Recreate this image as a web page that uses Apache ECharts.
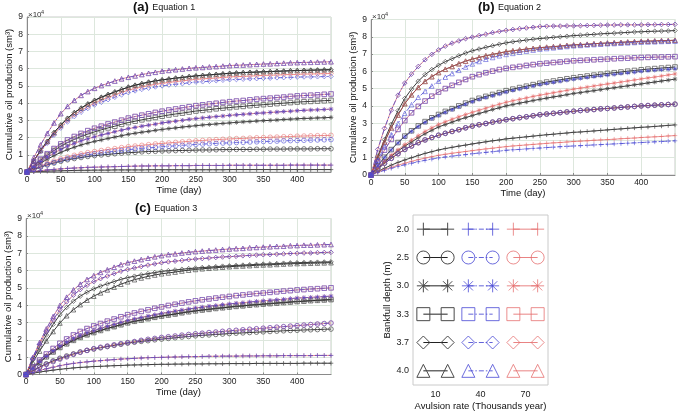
<!DOCTYPE html>
<html>
<head>
<meta charset="utf-8">
<script src="https://cdn.jsdelivr.net/npm/echarts/dist/echarts.min.js"></script>
<style>
  html, body { margin: 0; padding: 0; background: #fff; }
  #chart { width: 685px; height: 413px; }
</style>
</head>
<body>
<div id="chart"></div>
<script>
// time axis (days) shared by all three panels
const days = [0,10,20,30,40,50,60,70,80,90,100,110,120,130,140,150,160,170,180,190,200,210,220,230,240,250,260,270,280,290,300,310,320,330,340,350,360,370,380,390,400,410,420,430,440,450];

// legend categories
const depths = ['2.0', '2.5', '3.0', '3.3', '3.7', '4.0'];   // bankfull depth (m)
const rates = ['10', '40', '70'];                             // avulsion rate (thousands year)

// values in units of 1e4 sm3
// (a) Equation 1
const eq1Plus10 = [0,.02,.03,.05,.06,.07,.08,.09,.1,.1,.11,.11,.11,.12,.12,.12,.12,.12,.13,.13,.13,.13,.13,.13,.13,.13,.13,.13,.13,.13,.14,.14,.14,.14,.14,.14,.14,.14,.14,.14,.14,.14,.14,.14,.14,.14];
const eq1Plus40 = [0,.04,.08,.12,.15,.18,.21,.23,.25,.27,.28,.29,.3,.31,.32,.33,.34,.35,.35,.36,.36,.36,.37,.37,.37,.38,.38,.38,.38,.38,.39,.39,.39,.39,.39,.39,.39,.39,.39,.4,.4,.4,.4,.4,.4,.4];
const eq1Circle10 = [0,.15,.28,.41,.52,.62,.71,.78,.84,.9,.95,.99,1.02,1.06,1.09,1.12,1.14,1.17,1.19,1.2,1.22,1.23,1.24,1.25,1.26,1.27,1.28,1.28,1.29,1.3,1.3,1.31,1.31,1.31,1.32,1.32,1.33,1.33,1.33,1.34,1.34,1.34,1.34,1.35,1.35,1.35];
const eq1Circle40 = [0,.16,.31,.44,.56,.68,.77,.86,.93,1,1.05,1.11,1.16,1.2,1.25,1.3,1.33,1.37,1.4,1.43,1.47,1.49,1.52,1.55,1.57,1.6,1.62,1.64,1.66,1.68,1.69,1.71,1.72,1.74,1.75,1.77,1.78,1.79,1.81,1.82,1.83,1.84,1.85,1.86,1.87,1.88];
const eq1Circle70 = [0,.18,.35,.5,.64,.77,.87,.97,1.05,1.13,1.19,1.25,1.31,1.36,1.42,1.47,1.51,1.55,1.59,1.63,1.66,1.69,1.72,1.75,1.78,1.81,1.83,1.86,1.88,1.9,1.92,1.94,1.95,1.97,1.99,2,2.02,2.03,2.05,2.06,2.08,2.09,2.1,2.11,2.12,2.13];
const eq1Star10 = [0,.27,.52,.74,.95,1.14,1.3,1.44,1.57,1.68,1.78,1.86,1.95,2.03,2.11,2.19,2.25,2.31,2.36,2.42,2.47,2.52,2.56,2.61,2.65,2.69,2.73,2.76,2.79,2.82,2.85,2.88,2.91,2.93,2.96,2.98,3,3.02,3.05,3.07,3.09,3.11,3.12,3.14,3.15,3.17];
const eq1Star40 = [0,.31,.6,.86,1.1,1.31,1.5,1.66,1.81,1.93,2.04,2.15,2.24,2.34,2.43,2.52,2.59,2.66,2.72,2.78,2.85,2.9,2.95,3,3.06,3.1,3.14,3.18,3.22,3.25,3.29,3.32,3.35,3.38,3.41,3.43,3.46,3.48,3.51,3.53,3.56,3.58,3.6,3.61,3.63,3.65];
const eq1Square10 = [0,.35,.69,.98,1.25,1.5,1.71,1.89,2.06,2.2,2.33,2.45,2.56,2.66,2.77,2.87,2.95,3.03,3.1,3.17,3.24,3.31,3.37,3.42,3.48,3.54,3.58,3.62,3.67,3.71,3.74,3.78,3.81,3.85,3.88,3.91,3.94,3.97,4,4.03,4.06,4.08,4.1,4.12,4.14,4.16];
const eq1Square40 = [0,.39,.75,1.06,1.36,1.63,1.86,2.06,2.24,2.4,2.54,2.66,2.79,2.9,3.01,3.13,3.22,3.3,3.38,3.46,3.53,3.6,3.66,3.73,3.79,3.85,3.9,3.95,3.99,4.04,4.08,4.12,4.15,4.19,4.23,4.26,4.29,4.32,4.35,4.39,4.42,4.44,4.46,4.48,4.51,4.53];
const eq1Diamond10 = [0,.65,1.25,1.78,2.29,2.73,3.12,3.45,3.71,3.95,4.16,4.34,4.5,4.65,4.79,4.93,5.04,5.13,5.22,5.29,5.35,5.4,5.45,5.49,5.54,5.58,5.61,5.64,5.67,5.7,5.73,5.75,5.77,5.79,5.8,5.82,5.83,5.85,5.86,5.88,5.89,5.9,5.91,5.92,5.93,5.94];
const eq1Diamond40 = [0,.61,1.17,1.67,2.14,2.55,2.91,3.22,3.47,3.69,3.89,4.05,4.2,4.34,4.48,4.61,4.71,4.8,4.87,4.94,5,5.05,5.09,5.13,5.18,5.22,5.24,5.27,5.3,5.33,5.36,5.37,5.39,5.41,5.42,5.44,5.45,5.47,5.48,5.49,5.51,5.52,5.52,5.53,5.54,5.55];
const eq1Diamond70 = [0,.63,1.2,1.72,2.2,2.63,3,3.32,3.58,3.8,4,4.18,4.33,4.47,4.62,4.75,4.85,4.94,5.02,5.09,5.15,5.2,5.25,5.29,5.34,5.38,5.41,5.43,5.46,5.49,5.52,5.54,5.55,5.57,5.59,5.61,5.62,5.63,5.65,5.66,5.67,5.69,5.69,5.7,5.71,5.72];
const eq1Triangle40 = [0,.83,1.57,2.24,2.85,3.39,3.81,4.16,4.45,4.67,4.86,5.02,5.15,5.28,5.41,5.5,5.58,5.66,5.73,5.79,5.86,5.9,5.94,5.98,6.02,6.05,6.07,6.1,6.12,6.15,6.18,6.2,6.21,6.23,6.25,6.27,6.28,6.3,6.32,6.34,6.35,6.36,6.37,6.38,6.39,6.4];

// (b) Equation 2
const eq2Plus10 = [0,.2,.39,.57,.73,.87,1,1.13,1.25,1.35,1.45,1.53,1.6,1.67,1.73,1.8,1.86,1.92,1.98,2.03,2.09,2.13,2.17,2.21,2.25,2.29,2.33,2.36,2.4,2.43,2.47,2.49,2.52,2.55,2.58,2.61,2.64,2.67,2.7,2.73,2.76,2.78,2.81,2.84,2.87,2.9];
const eq2Plus40 = [0,.14,.27,.39,.5,.59,.68,.77,.85,.92,.99,1.04,1.09,1.14,1.18,1.23,1.27,1.31,1.35,1.39,1.43,1.46,1.48,1.51,1.54,1.56,1.59,1.61,1.64,1.66,1.68,1.7,1.72,1.74,1.76,1.78,1.8,1.82,1.84,1.86,1.88,1.9,1.92,1.94,1.96,1.98];
const eq2Plus70 = [0,.16,.31,.44,.57,.68,.79,.89,.98,1.06,1.14,1.2,1.26,1.31,1.36,1.41,1.46,1.51,1.55,1.6,1.64,1.68,1.71,1.74,1.77,1.8,1.83,1.86,1.88,1.91,1.94,1.96,1.98,2.01,2.03,2.05,2.07,2.1,2.12,2.14,2.17,2.19,2.21,2.23,2.26,2.28];
const eq2Circle = [0,.35,.68,.96,1.23,1.48,1.68,1.87,2.03,2.17,2.3,2.41,2.52,2.62,2.73,2.83,2.91,2.98,3.06,3.13,3.2,3.26,3.32,3.37,3.43,3.49,3.53,3.57,3.61,3.65,3.69,3.73,3.76,3.79,3.83,3.85,3.88,3.91,3.94,3.97,4,4.02,4.04,4.06,4.08,4.1];
const eq2Star10 = [0,.39,.75,1.08,1.39,1.67,1.91,2.16,2.39,2.59,2.78,2.92,3.06,3.2,3.32,3.44,3.56,3.67,3.79,3.89,4,4.08,4.16,4.23,4.31,4.38,4.45,4.52,4.58,4.65,4.72,4.77,4.83,4.88,4.94,5,5.05,5.11,5.16,5.22,5.27,5.33,5.38,5.44,5.49,5.55];
const eq2Star40 = [0,.52,1.01,1.45,1.85,2.21,2.52,2.8,3.04,3.26,3.44,3.62,3.78,3.94,4.09,4.24,4.37,4.48,4.59,4.69,4.8,4.89,4.98,5.06,5.15,5.23,5.3,5.36,5.42,5.48,5.54,5.59,5.64,5.69,5.74,5.78,5.82,5.87,5.91,5.95,6,6.03,6.06,6.09,6.12,6.15];
const eq2Star70 = [0,.41,.79,1.14,1.46,1.76,2.02,2.28,2.52,2.73,2.93,3.08,3.23,3.37,3.5,3.63,3.75,3.87,3.99,4.1,4.21,4.3,4.38,4.46,4.55,4.62,4.69,4.76,4.83,4.9,4.97,5.03,5.09,5.15,5.21,5.27,5.32,5.38,5.44,5.5,5.56,5.62,5.67,5.73,5.79,5.85];
const eq2Square10 = [0,.53,1.03,1.47,1.88,2.25,2.56,2.84,3.09,3.31,3.5,3.68,3.84,4,4.16,4.31,4.44,4.55,4.66,4.77,4.88,4.97,5.06,5.14,5.23,5.31,5.38,5.44,5.51,5.57,5.63,5.68,5.73,5.78,5.83,5.88,5.92,5.96,6.01,6.05,6.09,6.13,6.16,6.19,6.22,6.25];
const eq2Square40 = [0,.75,1.44,2.06,2.64,3.15,3.6,3.97,4.28,4.56,4.8,5,5.19,5.36,5.53,5.69,5.81,5.92,6.01,6.1,6.17,6.23,6.28,6.34,6.39,6.44,6.47,6.51,6.54,6.58,6.61,6.63,6.65,6.67,6.69,6.71,6.73,6.75,6.76,6.78,6.8,6.81,6.82,6.83,6.84,6.85];
const eq2Diamond10 = [0,1.09,2.05,2.93,3.72,4.43,4.97,5.43,5.81,6.1,6.35,6.56,6.73,6.9,7.06,7.19,7.29,7.39,7.48,7.57,7.65,7.71,7.76,7.81,7.86,7.9,7.93,7.97,8,8.03,8.07,8.09,8.12,8.14,8.17,8.19,8.21,8.23,8.25,8.28,8.29,8.31,8.32,8.33,8.34,8.36];
const eq2Diamond40 = [0,1.48,2.7,3.75,4.62,5.32,5.84,6.28,6.67,6.98,7.24,7.46,7.63,7.76,7.89,7.98,8.07,8.15,8.24,8.31,8.37,8.42,8.47,8.51,8.55,8.59,8.61,8.62,8.62,8.63,8.63,8.64,8.65,8.66,8.67,8.68,8.68,8.69,8.69,8.69,8.69,8.7,8.7,8.71,8.71,8.72];
const eq2Triangle10 = [0,1.01,1.91,2.73,3.47,4.13,4.64,5.07,5.42,5.69,5.93,6.12,6.28,6.44,6.59,6.71,6.8,6.9,6.98,7.06,7.14,7.19,7.24,7.29,7.33,7.37,7.4,7.43,7.46,7.5,7.53,7.55,7.57,7.6,7.62,7.64,7.66,7.68,7.7,7.72,7.74,7.75,7.76,7.78,7.78,7.8];
const eq2Triangle40 = [0,.85,1.63,2.33,2.98,3.57,4.07,4.5,4.84,5.15,5.43,5.66,5.87,6.06,6.25,6.43,6.57,6.7,6.8,6.9,6.98,7.04,7.11,7.17,7.23,7.29,7.32,7.36,7.4,7.44,7.48,7.5,7.53,7.55,7.57,7.6,7.61,7.63,7.65,7.67,7.69,7.7,7.71,7.73,7.74,7.75];

// (c) Equation 3
const eq3Plus10 = [0,.07,.14,.2,.25,.3,.34,.38,.41,.43,.46,.47,.49,.51,.52,.54,.55,.56,.57,.58,.59,.59,.6,.6,.61,.61,.61,.62,.62,.62,.63,.63,.63,.63,.64,.64,.64,.64,.64,.64,.64,.65,.65,.65,.65,.65];
const eq3Plus40 = [0,.12,.23,.33,.42,.51,.58,.64,.69,.73,.77,.8,.83,.86,.89,.91,.93,.95,.97,.98,.99,1,1.01,1.02,1.03,1.03,1.04,1.05,1.05,1.06,1.06,1.06,1.07,1.07,1.07,1.08,1.08,1.08,1.09,1.09,1.09,1.09,1.09,1.1,1.1,1.1];
const eq3Circle10 = [0,.22,.43,.62,.79,.94,1.07,1.19,1.3,1.39,1.47,1.54,1.61,1.68,1.74,1.81,1.86,1.91,1.95,2,2.04,2.08,2.12,2.16,2.19,2.23,2.26,2.28,2.31,2.33,2.36,2.38,2.4,2.42,2.44,2.46,2.48,2.5,2.52,2.54,2.55,2.57,2.58,2.59,2.61,2.62];
const eq3Circle40 = [0,.21,.4,.58,.74,.89,1.02,1.16,1.28,1.39,1.49,1.57,1.64,1.71,1.78,1.84,1.9,1.97,2.03,2.08,2.14,2.18,2.22,2.27,2.31,2.35,2.38,2.42,2.45,2.49,2.52,2.55,2.58,2.61,2.64,2.67,2.7,2.73,2.76,2.79,2.82,2.85,2.88,2.91,2.94,2.97];
const eq3Star10 = [0,.37,.71,1.02,1.3,1.56,1.77,1.97,2.14,2.29,2.42,2.54,2.66,2.76,2.87,2.98,3.07,3.14,3.22,3.3,3.37,3.43,3.49,3.56,3.62,3.67,3.72,3.76,3.81,3.85,3.89,3.93,3.96,4,4.03,4.06,4.09,4.12,4.15,4.18,4.21,4.23,4.26,4.28,4.3,4.32];
const eq3Star40 = [0,.38,.75,1.06,1.36,1.63,1.85,2.06,2.24,2.4,2.53,2.66,2.78,2.89,3.01,3.12,3.21,3.29,3.37,3.45,3.53,3.59,3.66,3.72,3.78,3.84,3.89,3.94,3.98,4.03,4.07,4.11,4.14,4.18,4.22,4.25,4.28,4.31,4.34,4.38,4.41,4.43,4.45,4.47,4.5,4.52];
const eq3Square40 = [0,.43,.83,1.18,1.5,1.8,2.05,2.28,2.48,2.65,2.8,2.94,3.08,3.2,3.33,3.45,3.55,3.64,3.73,3.82,3.9,3.98,4.05,4.12,4.19,4.25,4.31,4.36,4.41,4.46,4.5,4.55,4.59,4.63,4.67,4.7,4.74,4.77,4.81,4.84,4.88,4.9,4.93,4.95,4.98,5];
const eq3Diamond10 = [0,.85,1.59,2.28,2.89,3.45,3.87,4.23,4.52,4.75,4.94,5.1,5.23,5.36,5.49,5.59,5.67,5.75,5.82,5.88,5.95,5.99,6.03,6.07,6.11,6.14,6.17,6.19,6.22,6.25,6.27,6.29,6.31,6.33,6.35,6.37,6.38,6.4,6.42,6.44,6.45,6.46,6.47,6.48,6.49,6.5];
const eq3Diamond40 = [0,.92,1.73,2.47,3.14,3.74,4.19,4.58,4.9,5.15,5.36,5.53,5.68,5.82,5.96,6.06,6.15,6.23,6.31,6.38,6.45,6.5,6.54,6.58,6.63,6.66,6.69,6.72,6.75,6.78,6.8,6.82,6.85,6.87,6.89,6.91,6.92,6.94,6.96,6.98,6.99,7.01,7.01,7.03,7.04,7.05];
const eq3Triangle10 = [0,.71,1.35,1.94,2.48,2.97,3.39,3.74,4.03,4.29,4.52,4.71,4.88,5.04,5.21,5.35,5.47,5.57,5.66,5.74,5.81,5.86,5.91,5.97,6.02,6.06,6.1,6.13,6.16,6.19,6.22,6.24,6.26,6.28,6.3,6.32,6.33,6.35,6.37,6.39,6.4,6.41,6.42,6.43,6.44,6.45];
const eq3Triangle40 = [0,.98,1.84,2.63,3.34,3.98,4.46,4.88,5.21,5.48,5.7,5.89,6.04,6.19,6.34,6.45,6.54,6.63,6.71,6.79,6.86,6.92,6.96,7.01,7.05,7.09,7.12,7.15,7.18,7.21,7.24,7.26,7.28,7.31,7.33,7.35,7.37,7.39,7.4,7.43,7.44,7.46,7.46,7.48,7.49,7.5];

// rows = depth (2.0 .. 4.0), columns = rate (10, 40, 70); overlapping curves share one array
const eq1Curves = [
  [eq1Plus10, eq1Plus40, eq1Plus40],
  [eq1Circle10, eq1Circle40, eq1Circle70],
  [eq1Star10, eq1Star40, eq1Star40],
  [eq1Square10, eq1Square40, eq1Square40],
  [eq1Diamond10, eq1Diamond40, eq1Diamond70],
  [eq1Diamond10, eq1Triangle40, eq1Triangle40]
];
const eq2Curves = [
  [eq2Plus10, eq2Plus40, eq2Plus70],
  [eq2Circle, eq2Circle, eq2Circle],
  [eq2Star10, eq2Star40, eq2Star70],
  [eq2Square10, eq2Square40, eq2Square40],
  [eq2Diamond10, eq2Diamond40, eq2Diamond40],
  [eq2Triangle10, eq2Triangle40, eq2Triangle10]
];
const eq3Curves = [
  [eq3Plus10, eq3Plus40, eq3Plus40],
  [eq3Circle10, eq3Circle40, eq3Circle40],
  [eq3Star10, eq3Star40, eq3Star40],
  [eq3Star10, eq3Square40, eq3Square40],
  [eq3Diamond10, eq3Diamond40, eq3Diamond40],
  [eq3Triangle10, eq3Triangle40, eq3Triangle40]
];

// styles
const FONT = '"Liberation Sans", Arial, sans-serif';
const rateColors = ['#222222', '#3c3cd0', '#e25a5a'];
const markColors = ['#4a4a4a', '#4848d4', '#e46868'];
const rateDash = ['solid', [5, 2, 1.5, 2], 'solid'];
const rateOpacity = [1, 0.8, 0.75];
const depthSymbols = [
  'path://M5,0L5,10M0,5L10,5',                                    // +
  'circle',
  'path://M5,0L5,10M0,5L10,5M1.46,1.46L8.54,8.54M8.54,1.46L1.46,8.54', // *
  'rect',
  'diamond',
  'triangle'
];
const drawOrder = [0, 2, 1];   // black, red, blue on top

const grids = [
  { left: 27, top: 17, width: 304, height: 155 },
  { left: 371, top: 19.5, width: 304, height: 155.5 },
  { left: 26, top: 218.5, width: 305, height: 156 },
  { left: 413, top: 215, width: 135, height: 170 }
].map(g => Object.assign({ show: true, borderColor: '#cacaca', borderWidth: 1 }, g));

function plotAxes(i) {
  return {
    x: {
      gridIndex: i, type: 'value', min: 0, max: 450, interval: 50,
      name: 'Time (day)', nameLocation: 'middle', nameGap: 10.5,
      nameTextStyle: { fontFamily: FONT, fontSize: 9.5, color: '#111' },
      axisLine: { lineStyle: { color: '#8a8a8a' } },
      axisTick: { inside: true, length: 2, lineStyle: { color: '#8a8a8a' } },
      axisLabel: { showMaxLabel: false, fontFamily: FONT, fontSize: 8.5, color: '#222', margin: 3 },
      splitLine: { lineStyle: { color: '#dde7dd', width: 1 } }
    },
    y: {
      gridIndex: i, type: 'value', min: 0, max: 9, interval: 1,
      name: 'Cumulative oil production (sm³)', nameLocation: 'middle', nameGap: 13, nameRotate: 90,
      nameTextStyle: { fontFamily: FONT, fontSize: 9.5, color: '#111' },
      axisLine: { lineStyle: { color: '#8a8a8a' } },
      axisTick: { inside: true, length: 2, lineStyle: { color: '#8a8a8a' } },
      axisLabel: { fontFamily: FONT, fontSize: 8.5, color: '#222', margin: 4 },
      splitLine: { lineStyle: { color: '#dde7dd', width: 1 } }
    }
  };
}

const xAxes = [], yAxes = [], series = [];
[eq1Curves, eq2Curves, eq3Curves].forEach((curves, p) => {
  const ax = plotAxes(p);
  xAxes.push(ax.x);
  yAxes.push(ax.y);
  drawOrder.forEach(r => {
    curves.forEach((row, d) => {
      series.push({
        type: 'line', xAxisIndex: p, yAxisIndex: p,
        data: days.map((t, k) => [t, row[r][k]]),
        symbol: depthSymbols[d], symbolSize: 4.6,
        lineStyle: { color: rateColors[r], width: 0.9, type: rateDash[r], opacity: rateOpacity[r] },
        itemStyle: { color: 'transparent', borderColor: markColors[r], borderWidth: 0.7, opacity: rateOpacity[r] },
        silent: true, animation: false
      });
    });
  });
});

// legend panel: depth rows x rate columns
const keyOffsets = [0.23, 0.77];
xAxes.push({
  gridIndex: 3, type: 'value', min: 0, max: 3, interval: 0.5,
  name: 'Avulsion rate (Thousands year)', nameLocation: 'middle', nameGap: 16,
  nameTextStyle: { fontFamily: FONT, fontSize: 9.5, color: '#111' },
  axisLine: { show: false }, axisTick: { show: false }, splitLine: { show: false },
  axisLabel: {
    fontFamily: FONT, fontSize: 9, color: '#222', margin: 5,
    formatter: v => (Number.isInteger(v) ? '' : rates[Math.floor(v)])
  }
});
yAxes.push({
  gridIndex: 3, type: 'category', data: depths, inverse: true,
  name: 'Bankfull depth (m)', nameLocation: 'middle', nameGap: 20, nameRotate: 90,
  nameTextStyle: { fontFamily: FONT, fontSize: 9.5, color: '#111' },
  axisLine: { show: false }, axisTick: { show: false }, splitLine: { show: false },
  axisLabel: { fontFamily: FONT, fontSize: 9, color: '#222', margin: 4 }
});
depths.forEach((dep, d) => {
  rates.forEach((rate, r) => {
    series.push({
      type: 'line', xAxisIndex: 3, yAxisIndex: 3,
      data: keyOffsets.map(o => [r + o, d]),
      symbol: depthSymbols[d], symbolSize: 13,
      lineStyle: { color: rateColors[r], width: 1, type: rateDash[r], opacity: rateOpacity[r] },
      itemStyle: { color: 'transparent', borderColor: markColors[r], borderWidth: 1, opacity: rateOpacity[r] },
      silent: true, animation: false
    });
  });
});

// panel titles and the x10^4 multipliers
const titles = [
  { tag: '(a)', eq: 'Equation 1', x: 133, y: 1 },
  { tag: '(b)', eq: 'Equation 2', x: 478, y: 1 },
  { tag: '(c)', eq: 'Equation 3', x: 135, y: 202 }
];
const multipliers = [[28, 9], [372, 11], [27, 210]];
const graphic = [];
titles.forEach(t => {
  graphic.push({
    type: 'text', left: t.x, top: t.y, silent: true,
    style: {
      text: '{b|' + t.tag + '} {n|' + t.eq + '}',
      rich: {
        b: { fontFamily: FONT, fontSize: 13, fontWeight: 'bold', fill: '#111' },
        n: { fontFamily: FONT, fontSize: 9, fill: '#111' }
      }
    }
  });
});
multipliers.forEach(m => {
  graphic.push({ type: 'text', left: m[0], top: m[1] + 2, silent: true,
    style: { text: '×10', fontFamily: FONT, fontSize: 8, fill: '#333' } });
  graphic.push({ type: 'text', left: m[0] + 13, top: m[1], silent: true,
    style: { text: '4', fontFamily: FONT, fontSize: 5.5, fill: '#333' } });
});

const chart = echarts.init(document.getElementById('chart'), null, { renderer: 'canvas' });
chart.setOption({
  backgroundColor: '#fff',
  animation: false,
  grid: grids,
  xAxis: xAxes,
  yAxis: yAxes,
  series: series,
  graphic: graphic
});
</script>
</body>
</html>
